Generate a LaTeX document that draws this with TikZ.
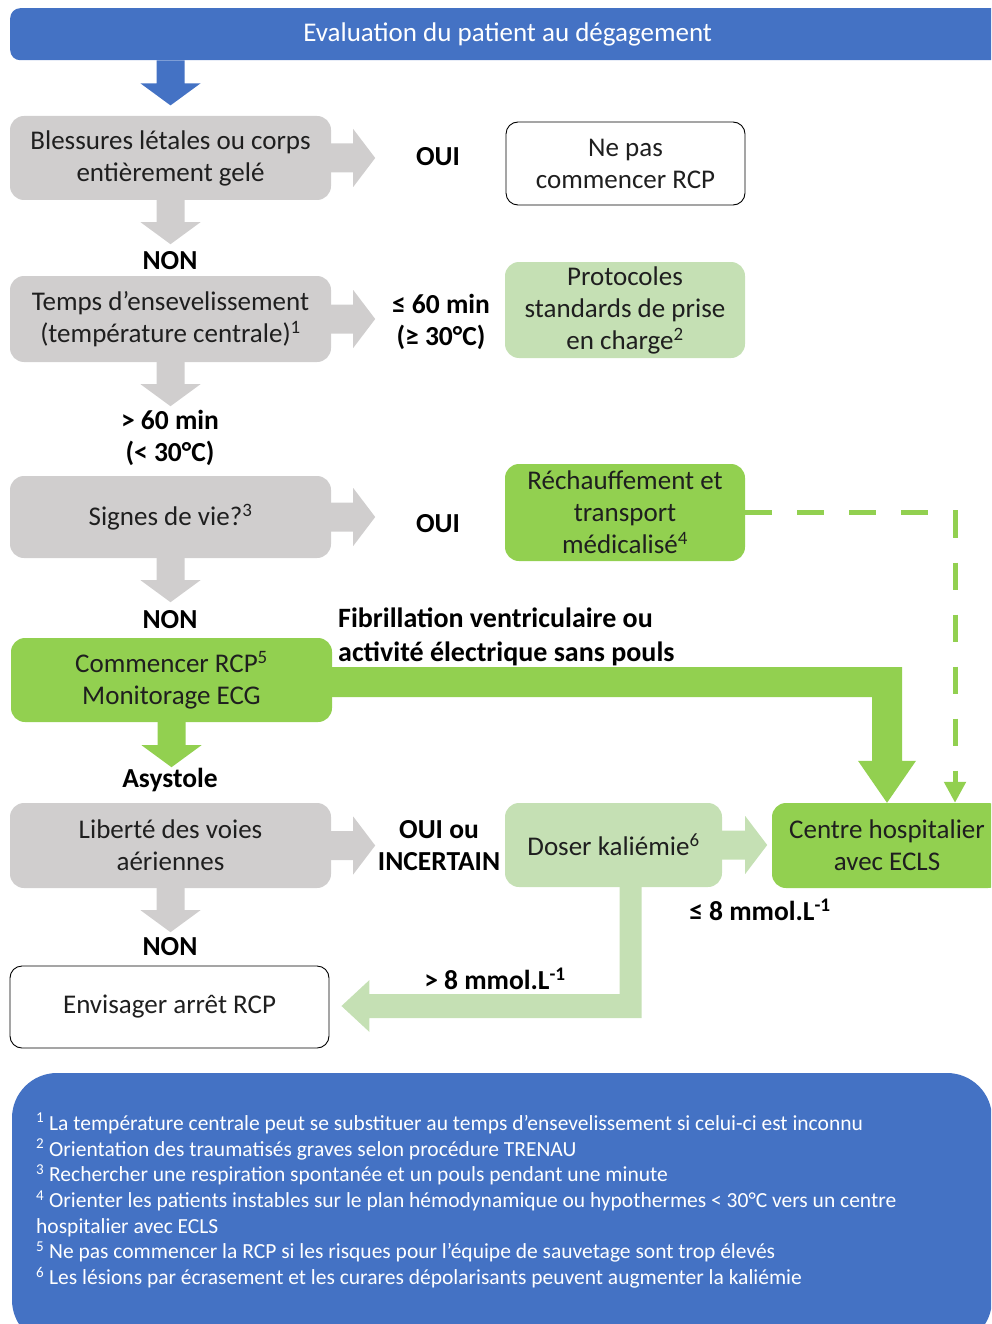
\documentclass[tikz,border=0pt]{standalone}
\usepackage{fontspec}
\setmainfont{Carlito}
\usetikzlibrary{calc,arrows.meta}
\definecolor{cblue}{HTML}{4472C4}
\definecolor{cgray}{HTML}{D0CECE}
\definecolor{cgreen}{HTML}{92D050}
\definecolor{clgreen}{HTML}{C5E0B4}
\definecolor{ctext}{HTML}{1F1F1F}
\newcommand\DArr[3]{\fill[#2] ($(#1)+(-14,0)$) -- ($(#1)+(-14,#3-22)$) -- ($(#1)+(-30,#3-22)$) -- ($(#1)+(0,#3)$) -- ($(#1)+(30,#3-22)$) -- ($(#1)+(14,#3-22)$) -- ($(#1)+(14,0)$) -- cycle;}
\newcommand\RArr[3]{\fill[#2] ($(#1)+(0,-14.5)$) -- ($(#1)+(#3-22,-14.5)$) -- ($(#1)+(#3-22,-29)$) -- ($(#1)+(#3,0)$) -- ($(#1)+(#3-22,29)$) -- ($(#1)+(#3-22,14.5)$) -- ($(#1)+(0,14.5)$) -- cycle;}
\tikzset{
  box/.style={rounded corners=14pt, align=center, inner sep=0pt, text=ctext,
    font=\fontsize{27}{32}\selectfont},
  graybox/.style={box, fill=cgray, minimum width=321pt},
  whitebox/.style={box, draw=black, line width=0.9pt, rounded corners=12pt},
  lbl/.style={align=center, inner sep=0pt, text=black, font=\fontsize{27.5}{32}\selectfont\bfseries},
}
\begin{document}
\begin{tikzpicture}[x=1pt,y=-1pt]
\useasboundingbox (0,0) rectangle (991,1324);
\clip (0,0) rectangle (991,1324);
% title banner
\node[fill=cblue, rounded corners=10pt, minimum width=995pt, minimum height=52pt, anchor=north west, inner sep=0pt, text=white, font=\fontsize{27}{30}\selectfont] (title) at (10,8) {\raisebox{-3pt}{Evaluation du patient au dégagement}};
% main boxes
\node[graybox, minimum height=84pt] (B1) at (170.5,158) {Blessures létales ou corps\\entièrement gelé};
\node[whitebox, minimum width=239pt, minimum height=83pt] (NePas) at (625.5,163.5) {Ne pas\\commencer RCP};
\node[graybox, minimum height=86pt] (B2) at (170.5,319) {Temps d’ensevelissement\\(température centrale)\textsuperscript{1}};
\node[box, fill=clgreen, minimum width=240pt, minimum height=96pt] (Proto) at (625,310) {Protocoles\\standards de prise\\en charge\textsuperscript{2}};
\node[graybox, minimum height=82pt] (B3) at (170.5,517) {Signes de vie?\textsuperscript{3}};
\node[box, fill=cgreen, minimum width=240pt, minimum height=97pt] (Rech) at (625,512.5) {Réchauffement et\\transport\\médicalisé\textsuperscript{4}};
\node[box, fill=cgreen, minimum width=321pt, minimum height=84pt] (B4) at (171.5,680) {Commencer RCP\textsuperscript{5}\\Monitorage ECG};
\node[graybox, minimum height=85pt] (B5) at (170.5,845.5) {Liberté des voies\\aériennes};
\node[box, fill=clgreen, minimum width=217pt, minimum height=84pt] (Doser) at (613.5,845) {Doser kaliémie\textsuperscript{6}};
\node[box, fill=cgreen, minimum width=230pt, minimum height=85pt] (Centre) at (887,845.5) {Centre hospitalier\\avec ECLS};
\node[whitebox, minimum width=319pt, minimum height=82pt] (Env) at (169.5,1007) {Envisager arrêt RCP};
% down arrows
\DArr{B1.north |- title.south}{cblue}{45}
\DArr{B1.south}{cgray}{44}
\DArr{B2.south}{cgray}{44}
\DArr{B3.south}{cgray}{44}
\DArr{B4.south}{cgreen}{45}
\DArr{B5.south}{cgray}{44}
% right arrows
\RArr{B1.east}{cgray}{44}
\RArr{B2.east}{cgray}{44}
\RArr{B3.east}{cgray}{44}
\RArr{B5.east}{cgray}{44}
\RArr{Doser.east}{clgreen}{45}
% thick green arrow to Centre
\coordinate (fvA) at ($(B4.east)+(0,-13)$);
\coordinate (fvB) at ($(B4.east)+(0,17)$);
\coordinate (fvT) at (Centre.north);
\fill[cgreen] (fvA) -- ($(fvT |- fvA)+(15,0)$) -- ($(fvT)+(15,-42)$) -- ($(fvT)+(29,-42)$) -- (fvT) -- ($(fvT)+(-29,-42)$) -- ($(fvT)+(-15,-42)$) -- ($(fvT |- fvB)+(-15,0)$) -- (fvB) -- cycle;
% dashed arrow
\coordinate (dEnd) at ($(Centre.north)+(68,0)$);
\draw[cgreen, line width=5pt, dash pattern=on 27pt off 25pt, -{Triangle[width=21pt,length=21pt]}] (Rech.east) -| (dEnd);
% L arrow from Doser to Envisager
\coordinate (kS) at ($(Doser.south)+(17,0)$);
\coordinate (kT) at ($(Env.east)+(12,-1)$);
\fill[clgreen] ($(kS)+(-11,0)$) -- ($(kS |- kT)+(-11,-12)$) -- ($(kT)+(28,-12)$) -- ($(kT)+(28,-26)$) -- (kT) -- ($(kT)+(28,26)$) -- ($(kT)+(28,12)$) -- ($(kS |- kT)+(11,12)$) -- ($(kS)+(11,0)$) -- cycle;
% labels
\node[lbl] (l1) at (438,157) {OUI};
\node[lbl] (l2) at (170,261) {NON};
\node[lbl] (l3) at (441,322) {≤ 60 min\\(≥ 30°C)};
\node[lbl] (l4) at (170,438) {> 60 min\\(< 30°C)};
\node[lbl] (l5) at (438,524) {OUI};
\node[lbl] (l6) at (170,620) {NON};
\node[lbl, align=left, anchor=west, font=\fontsize{28}{34}\selectfont\bfseries] (l7) at (338,637) {Fibrillation ventriculaire ou\\activité électrique sans pouls};
\node[lbl] (l8) at (170,780) {Asystole};
\node[lbl] (l9) at (439,846) {OUI ou\\INCERTAIN};
\node[lbl] (l10) at (170,947) {NON};
\node[lbl] (l11) at (760,910) {≤ 8 mmol.L\textsuperscript{-1}};
\node[lbl] (l12) at (495,979) {> 8 mmol.L\textsuperscript{-1}};
% footnotes
\fill[cblue, rounded corners=45pt] (12,1073) rectangle (992,1345);
\node[anchor=north west, align=left, inner sep=0pt, text=white, font=\fontsize{21.5}{25.7}\selectfont] (notes) at (36,1113) {%
\textsuperscript{1} La température centrale peut se substituer au temps d’ensevelissement si celui-ci est inconnu\\
\textsuperscript{2} Orientation des traumatisés graves selon procédure TRENAU\\
\textsuperscript{3} Rechercher une respiration spontanée et un pouls pendant une minute\\
\textsuperscript{4} Orienter les patients instables sur le plan hémodynamique ou hypothermes < 30°C vers un centre\\
hospitalier avec ECLS\\
\textsuperscript{5} Ne pas commencer la RCP si les risques pour l’équipe de sauvetage sont trop élevés\\
\textsuperscript{6} Les lésions par écrasement et les curares dépolarisants peuvent augmenter la kaliémie};
\end{tikzpicture}
\end{document}
